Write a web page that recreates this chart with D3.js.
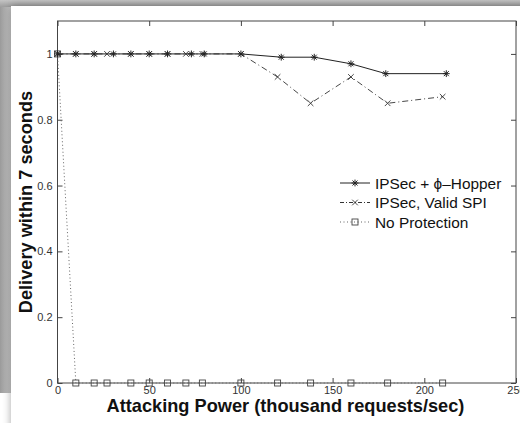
<!DOCTYPE html>
<html>
<head>
<meta charset="utf-8">
<script src="https://cdn.jsdelivr.net/npm/d3@7"></script>
<style>
  html, body { margin: 0; padding: 0; background: #fff; }
  svg { display: block; font-family: "Liberation Sans", Arial, Helvetica, sans-serif; }
</style>
</head>
<body>
<svg id="chart" width="520" height="423"></svg>
<script>
// Attack rate (thousand requests/sec) and delivery ratio per configuration
const xNoProtection = [0, 10, 20, 27, 40, 50, 60, 70, 79, 100, 120, 138, 160, 180, 210];
const yNoProtection = [1, 0, 0, 0, 0, 0, 0, 0, 0, 0, 0, 0, 0, 0, 0];

const xValidSPI = [0, 10, 20, 27, 40, 50, 60, 70, 79, 100, 120, 138, 160, 180, 210];
const yValidSPI = [1, 1, 1, 1, 1, 1, 1, 1, 1, 1, 0.93, 0.85, 0.93, 0.85, 0.87];

const xHopper = [0, 10, 20, 30.5, 40, 50, 60, 73, 80, 100, 122, 140, 160, 179, 212];
const yHopper = [1, 1, 1, 1, 1, 1, 1, 1, 1, 1, 0.99, 0.99, 0.97, 0.94, 0.94];

const xTicks = [0, 50, 100, 150, 200, 250];
const yTicks = [0, 0.2, 0.4, 0.6, 0.8, 1];
const yTickLabels = ["0", "0.2", "0.4", "0.6", "0.8", "1"];

const seriesNames = ["IPSec + \u03d5\u2013Hopper", "IPSec, Valid SPI", "No Protection"];

const svg = d3.select("#chart");

// ---- frame around the figure card ----
const defs = svg.append("defs");
const gTop = defs.append("linearGradient").attr("id", "gTop").attr("x1", 0).attr("y1", 0).attr("x2", 0).attr("y2", 1);
gTop.append("stop").attr("offset", "0%").attr("stop-color", "#c4c4c4");
gTop.append("stop").attr("offset", "100%").attr("stop-color", "#9e9e9e");
const gLeft = defs.append("linearGradient").attr("id", "gLeft").attr("x1", 0).attr("y1", 0).attr("x2", 1).attr("y2", 0);
gLeft.append("stop").attr("offset", "0%").attr("stop-color", "#9a9a9a");
gLeft.append("stop").attr("offset", "100%").attr("stop-color", "#c8c8c8");
const shadow = defs.append("filter").attr("id", "cardShadow").attr("x", "-10%").attr("y", "-10%").attr("width", "120%").attr("height", "120%");
shadow.append("feGaussianBlur").attr("in", "SourceAlpha").attr("stdDeviation", 4).attr("result", "b");
shadow.append("feComponentTransfer").attr("in", "b").attr("result", "s")
  .append("feFuncA").attr("type", "linear").attr("slope", 0.35);
const merge = shadow.append("feMerge");
merge.append("feMergeNode").attr("in", "s");
merge.append("feMergeNode").attr("in", "SourceGraphic");

svg.append("rect").attr("x", 0).attr("y", 0).attr("width", 11).attr("height", 393).attr("fill", "url(#gLeft)");
svg.append("rect").attr("x", 0).attr("y", 0).attr("width", 520).attr("height", 7).attr("fill", "url(#gTop)");
svg.append("rect").attr("x", 11).attr("y", 6).attr("width", 530).attr("height", 430)
  .attr("fill", "#fff").attr("filter", "url(#cardShadow)");

// ---- plot area ----
const plotLeft = 57.5, plotRight = 516, plotTop = 21, plotBottom = 383;
const x = d3.scaleLinear().domain([0, 250]).range([plotLeft, plotRight]);
const y = d3.scaleLinear().domain([0, 1.1]).range([plotBottom, plotTop]);

const ink = "#222";
const plot = svg.append("g");

// box
plot.append("rect").attr("x", plotLeft).attr("y", plotTop)
  .attr("width", plotRight - plotLeft).attr("height", plotBottom - plotTop)
  .attr("fill", "none").attr("stroke", "#444").attr("stroke-width", 1);

// axes with inward ticks
const axisBottom = d3.axisBottom(x).tickValues(xTicks).tickSize(-5).tickPadding(3).tickFormat(d3.format("d"));
const axisTop = d3.axisTop(x).tickValues(xTicks).tickSize(-5).tickFormat("");
const axisLeft = d3.axisLeft(y).tickValues(yTicks).tickSize(-5).tickPadding(5).tickFormat((d, i) => yTickLabels[i]);
const axisRight = d3.axisRight(y).tickValues(yTicks).tickSize(-5).tickFormat("");

function styleAxis(g) {
  g.select(".domain").remove();
  g.selectAll(".tick line").attr("stroke", "#444");
  g.selectAll(".tick text").attr("fill", "#333").attr("font-size", 11)
    .attr("font-family", "'Liberation Sans', Arial, sans-serif");
}
plot.append("g").attr("transform", `translate(0,${plotBottom})`).call(axisBottom).call(styleAxis);
plot.append("g").attr("transform", `translate(0,${plotTop})`).call(axisTop).call(styleAxis);
plot.append("g").attr("transform", `translate(${plotLeft},0)`).call(axisLeft).call(styleAxis);
plot.append("g").attr("transform", `translate(${plotRight},0)`).call(axisRight).call(styleAxis);

// ---- series ----
const line = d3.line().x(d => x(d[0])).y(d => y(d[1]));
const zip = (xs, ys) => xs.map((v, i) => [v, ys[i]]);

const dataNo = zip(xNoProtection, yNoProtection);
const dataSPI = zip(xValidSPI, yValidSPI);
const dataHop = zip(xHopper, yHopper);

plot.append("path").datum(dataNo).attr("d", line).attr("fill", "none")
  .attr("stroke", "#666").attr("stroke-width", 1).attr("stroke-dasharray", "1,2.5");
plot.append("path").datum(dataSPI).attr("d", line).attr("fill", "none")
  .attr("stroke", "#333").attr("stroke-width", 0.9).attr("stroke-dasharray", "6,3,1,3");
plot.append("path").datum(dataHop).attr("d", line).attr("fill", "none")
  .attr("stroke", ink).attr("stroke-width", 1);

// marker shapes
function drawSquare(g, cx, cy) {
  g.append("rect").attr("x", cx - 3).attr("y", cy - 3).attr("width", 6).attr("height", 6)
    .attr("fill", "none").attr("stroke", "#444").attr("stroke-width", 0.9);
}
function drawCross(g, cx, cy) {
  const r = 2.8;
  g.append("path").attr("d", `M${cx - r},${cy - r}L${cx + r},${cy + r}M${cx - r},${cy + r}L${cx + r},${cy - r}`)
    .attr("stroke", "#333").attr("stroke-width", 0.9).attr("fill", "none");
}
function drawStar(g, cx, cy) {
  const r = 3.4, d = 2.5;
  g.append("path").attr("d",
    `M${cx - r},${cy}L${cx + r},${cy}M${cx},${cy - r}L${cx},${cy + r}` +
    `M${cx - d},${cy - d}L${cx + d},${cy + d}M${cx - d},${cy + d}L${cx + d},${cy - d}`)
    .attr("stroke", ink).attr("stroke-width", 1).attr("fill", "none");
}

const mk = plot.append("g");
dataNo.forEach(d => drawSquare(mk, x(d[0]), y(d[1])));
dataSPI.forEach(d => drawCross(mk, x(d[0]), y(d[1])));
dataHop.forEach(d => drawStar(mk, x(d[0]), y(d[1])));

// ---- legend ----
const legend = svg.append("g");
const legX0 = 340, legX1 = 370, legTextX = 375;
const legY = [183, 202.5, 222];
const legStyles = [
  { stroke: ink, dash: null, marker: drawStar },
  { stroke: "#333", dash: "4,2,1,2", marker: drawCross },
  { stroke: "#666", dash: "1,2.5", marker: drawSquare }
];
seriesNames.forEach((name, i) => {
  const yy = legY[i];
  legend.append("line").attr("x1", legX0).attr("x2", legX1).attr("y1", yy).attr("y2", yy)
    .attr("stroke", legStyles[i].stroke).attr("stroke-width", 1)
    .attr("stroke-dasharray", legStyles[i].dash);
  legStyles[i].marker(legend, (legX0 + legX1) / 2, yy);
  legend.append("text").attr("x", legTextX).attr("y", yy).attr("dy", "0.36em")
    .attr("font-size", 15.4).attr("fill", "#111").text(name);
});

// ---- axis titles ----
svg.append("text").attr("x", 285.5).attr("y", 412).attr("text-anchor", "middle")
  .attr("font-size", 18.2).attr("font-weight", "bold").attr("fill", "#111")
  .text("Attacking Power (thousand requests/sec)");
svg.append("text").attr("transform", "translate(32,202) rotate(-90)").attr("text-anchor", "middle")
  .attr("font-size", 18.2).attr("font-weight", "bold").attr("fill", "#111")
  .text("Delivery within 7 seconds");
</script>
</body>
</html>
